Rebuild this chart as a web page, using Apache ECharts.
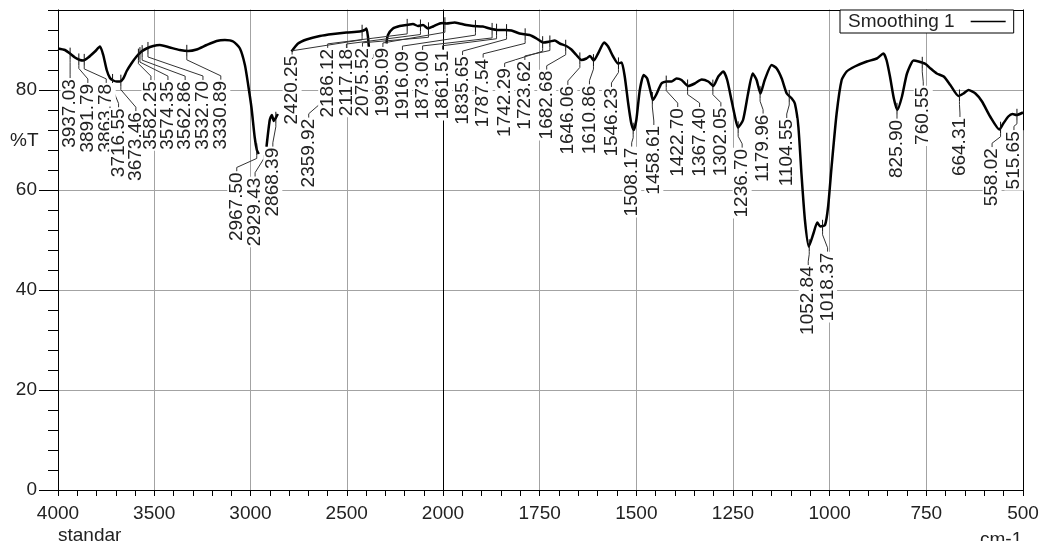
<!DOCTYPE html>
<html>
<head>
<meta charset="utf-8">
<script src="https://cdn.jsdelivr.net/npm/echarts@6/dist/echarts.min.js"></script>
<style>
  html, body { margin: 0; padding: 0; background: #fff; }
  #chart { width: 1040px; height: 541px; }
</style>
</head>
<body>
<div id="chart"></div>
<script>
// Infrared spectrum (%T vs wavenumber). The wavenumber axis is split at 2000 cm-1:
// 4000-2000 on a compressed scale, 2000-500 on an expanded one.

// Spectrum trace, high to low wavenumber; null marks the parts the trace omits.
const wavenumber = [
  4000, 3964, 3938, 3912, 3886, 3869, 3843, 3808, 3782, 3765, 3747, 3730, 3713, 3695, 3678, 3661,
  3643, 3617, 3592, 3566, 3540, 3505, 3471, 3419, 3367, 3324, 3280, 3228, 3176, 3133, 3090, 3055,
  3029, 3012, 2995, 2978, 2967, 2957, 2940, 2917, 2900, 2889, 2879, 2869, 2858, 2820, 2787, 2753,
  2709, 2640, 2571, 2502, 2433, 2407, 2398, 2390, 2384, 2340, 2294, 2286, 2260, 2225, 2190, 2156,
  2130, 2104, 2078, 2052, 2017, 2000,
  1991, 1970, 1957, 1940, 1922, 1897, 1879, 1858, 1840, 1823, 1802, 1776, 1758, 1741, 1724, 1711,
  1698, 1681, 1668, 1655, 1642, 1629, 1620, 1610, 1599, 1583, 1573, 1560, 1547, 1538, 1530, 1521,
  1513, 1507, 1500, 1491, 1481, 1472, 1461, 1457, 1449, 1435, 1422, 1409, 1396, 1383, 1366, 1349,
  1331, 1314, 1301, 1288, 1275, 1265, 1254, 1245, 1237, 1224, 1211, 1199, 1189, 1179, 1168, 1150,
  1137, 1124, 1111, 1098, 1090, 1081, 1073, 1064, 1054, 1042, 1032, 1024, 1012, 1004, 995, 982,
  969, 956, 935, 904, 878, 861, 853, 844, 834, 825, 813, 800, 783, 770, 752, 739,
  723, 705, 688, 667, 654, 641, 623, 606, 585, 561, 551, 538, 527, 517, 500
];
const transmittance = [
  88.3, 88.0, 87.3, 86.5, 86.0, 85.9, 86.5, 87.7, 88.7, 87.0, 84.0, 82.4, 81.9, 81.7, 81.7, 82.3,
  83.8, 85.4, 86.7, 87.7, 88.3, 88.8, 89.0, 88.5, 88.0, 87.8, 88.1, 89.0, 89.8, 90.0, 89.7, 88.3,
  85.0, 81.0, 76.5, 70.5, 68.0, 67.2, null, 68.6, 74.0, 75.0, 73.8, 74.4, 75.2, null, 87.7, 89.3,
  90.1, 90.8, 91.2, 91.5, 91.7, 92.0, 92.3, 90.7, 88.0, null, 89.3, 91.0, 92.3, 92.8, 93.0, 93.2,
  92.8, 93.0, 92.3, 92.7, 93.3, 93.4,
  93.3, 93.5, 93.3, 93.0, 92.8, 92.7, 92.3, 92.0, 92.0, 91.9, 91.3, 91.0, 90.3, 89.5, 89.7, 89.9,
  89.3, 88.8, 88.1, 87.0, 86.0, 86.3, 86.8, 85.9, 87.3, 89.5, 88.7, 86.7, 85.3, 85.5, 82.7, 77.3,
  73.3, 72.0, 74.0, 80.0, 83.0, 82.3, 79.0, 78.0, 79.0, 81.3, 81.7, 81.7, 82.3, 82.0, 80.8, 81.3,
  82.1, 81.7, 80.8, 82.7, 83.7, 82.0, 78.0, 74.7, 72.5, 74.0, 79.3, 83.3, 82.0, 79.3, 82.0, 85.0,
  84.3, 82.3, 79.3, 78.3, 77.3, 72.7, 63.3, 54.0, 48.7, 51.3, 53.5, 52.7, 53.0, 56.7, 64.7, 75.3,
  82.0, 83.7, 84.7, 85.7, 86.3, 87.3, 86.0, 82.7, 78.3, 76.0, 78.7, 83.3, 85.9, 85.7, 85.2, 84.3,
  83.3, 82.7, 81.0, 78.8, 79.3, 80.0, 79.3, 77.7, 74.7, 72.1, 73.3, 74.7, 75.2, 75.0, 75.5
];

// Picked peaks (cm-1)
const peakWavenumbers = [
  3937.03, 3891.79, 3863.78, 3716.55, 3673.46, 3582.25, 3574.35, 3562.86, 3532.70, 3330.89,
  2967.50, 2929.43, 2868.39, 2420.25, 2359.92, 2186.12, 2117.18, 2075.52, 1995.09, 1916.09,
  1873.00, 1861.51, 1835.65, 1787.54, 1742.29, 1723.62, 1682.68, 1646.06, 1610.86, 1546.23,
  1508.17, 1458.61, 1422.70, 1367.40, 1302.05, 1236.70, 1179.96, 1104.55, 1052.84, 1018.37,
  825.90, 760.55, 664.31, 558.02, 515.65
];
// Label placement: [dx, dy] in px from the peak on the trace to the top end of its label
const peakLabelOffsets = [
  [0, 24.5], [9, 23.5], [22, 23], [6, 27.5], [15, 30.5], [12.5, 25.5], [28, 27], [43, 29], [55, 32], [34, 29],
  [-20, 22], [-9, 27.5], [-3, 29], [-70, 24], [-65, 69.5], [-79.5, 23], [-74, 22.5], [-66, 18.5], [-62, 23.7], [-73, 24],
  [-69.5, 21], [-54, 20], [-44, 25], [-42, 23.5], [-38, 25], [-25, 18.5], [-19, 24], [-12, 26.5], [-4, 24.5], [-7, 23.5],
  [-1.5, 18], [1.5, 27], [11.5, 25.5], [12, 21.5], [8, 21], [4, 20.5], [3, 21.5], [-2.5, 22], [-1, 20], [5, 26],
  [0, 10], [1, 23], [0.5, 21.5], [-8.5, 19.5], [-3, 15.5]
];

const SPLIT = 2000;
const FONT = '"Liberation Sans", Arial, Helvetica, sans-serif';
const TEXT = '#222';
const GRID = '#a3a3a3';

function segment(high) {
  const out = [];
  for (let i = 0; i < wavenumber.length; i++) {
    const w = wavenumber[i];
    if (high ? w >= SPLIT : w <= SPLIT) {
      out.push([w, transmittance[i] == null ? '-' : transmittance[i]]);
    }
  }
  return out;
}

// Trace value at a wavenumber (linear between the nearest recorded points)
function traceAt(w) {
  let j = 0;
  while (j < wavenumber.length - 2 && wavenumber[j + 1] > w) j++;
  const gap = transmittance[j] == null || transmittance[j + 1] == null;
  let a = j, b = j + 1;
  while (a > 0 && transmittance[a] == null) a--;
  while (b < wavenumber.length - 1 && transmittance[b] == null) b++;
  const t = (w - wavenumber[a]) / (wavenumber[b] - wavenumber[a]);
  return { t: transmittance[a] + t * (transmittance[b] - transmittance[a]), gap };
}

function peakData(high) {
  const out = [];
  peakWavenumbers.forEach((w, i) => {
    if (high ? w >= SPLIT : w < SPLIT) {
      const r = traceAt(w);
      out.push([w, r.t, i, r.gap ? 1 : 0]);
    }
  });
  return out;
}

function renderPeak(params, api) {
  const i = api.value(2);
  const p = api.coord([api.value(0), api.value(1)]);
  const off = peakLabelOffsets[i];
  const lx = p[0] + off[0];
  const top = p[1] + off[1];
  const children = [];
  if (api.value(3) !== 1) {
    children.push({
      type: 'line', z2: 10,
      shape: { x1: p[0], y1: p[1] - 6, x2: p[0], y2: p[1] + 6 },
      style: { stroke: '#111', lineWidth: 1 }
    });
  }
  const y0 = p[1] + 6;
  let pts;
  if (top - 4 > y0 + 3) {
    pts = [[p[0], y0], [p[0], y0 + 3], [lx, top - 4], [lx, top]];
  } else {
    pts = [[p[0], y0], [lx, top]];
  }
  children.push({
    type: 'polyline', z2: 10,
    shape: { points: pts },
    style: { stroke: '#333', lineWidth: 1, fill: null }
  });
  children.push({
    type: 'text', z2: 100,
    x: lx, y: top, rotation: Math.PI / 2,
    style: {
      text: peakWavenumbers[i].toFixed(2),
      font: '19px ' + FONT,
      fill: TEXT,
      align: 'right',
      verticalAlign: 'middle',
      backgroundColor: '#fff',
      padding: [0, 1, 0, 1]
    }
  });
  return { type: 'group', children };
}

const plainNumber = v => String(v);
const axisLabelStyle = { color: TEXT, fontSize: 19, fontFamily: FONT, formatter: plainNumber };
const blackLine = { color: '#000', width: 1 };

const chart = echarts.init(document.getElementById('chart'));
chart.setOption({
  animation: false,
  backgroundColor: '#fff',
  grid: [
    { left: 58, top: -10, width: 385, bottom: 51, outerBoundsMode: 'none', containLabel: false },
    { left: 443, top: -10, width: 580, bottom: 51, outerBoundsMode: 'none', containLabel: false }
  ],
  xAxis: [
    {
      gridIndex: 0, type: 'value', min: 2000, max: 4000, interval: 500, inverse: true,
      axisLine: { lineStyle: blackLine },
      axisTick: { inside: false, length: 6, lineStyle: blackLine },
      minorTick: { show: true, splitNumber: 5, length: 6, lineStyle: blackLine },
      axisLabel: Object.assign({ margin: 14 }, axisLabelStyle),
      splitLine: { show: true, lineStyle: { color: ['#000', GRID, GRID, GRID, GRID], width: 1 } }
    },
    {
      gridIndex: 1, type: 'value', min: 500, max: 2000, interval: 250, inverse: true,
      axisLine: { lineStyle: blackLine },
      axisTick: { inside: false, length: 6, lineStyle: blackLine },
      minorTick: { show: true, splitNumber: 5, length: 6, lineStyle: blackLine },
      axisLabel: Object.assign({ margin: 14, showMaxLabel: false }, axisLabelStyle),
      splitLine: { show: true, lineStyle: { color: GRID, width: 1 } }
    }
  ],
  yAxis: [
    {
      gridIndex: 0, type: 'value', min: 0, max: 100, interval: 20,
      axisLine: { show: true, lineStyle: blackLine },
      axisTick: { show: true, inside: false, length: 19, lineStyle: blackLine },
      minorTick: { show: true, splitNumber: 5, length: 10, lineStyle: blackLine },
      axisLabel: Object.assign({ margin: 21 }, axisLabelStyle),
      splitLine: { show: true, lineStyle: { color: GRID, width: 1 } }
    },
    {
      gridIndex: 1, type: 'value', min: 0, max: 100, interval: 20,
      axisLine: { show: true, lineStyle: blackLine },
      axisTick: { show: false }, axisLabel: { show: false },
      splitLine: { show: true, lineStyle: { color: GRID, width: 1 } }
    },
    {
      gridIndex: 1, type: 'value', min: 0, max: 100, interval: 20, position: 'right',
      axisLine: { show: true, onZero: false, lineStyle: blackLine },
      axisTick: { show: false }, axisLabel: { show: false }, splitLine: { show: false }
    }
  ],
  legend: {
    data: [{ name: 'Smoothing 1', icon: 'rect' }],
    left: 840, top: 10, z: 20,
    align: 'right',
    padding: [2, 8, 2, 8],
    itemWidth: 35, itemHeight: 1.5,
    borderColor: '#000', borderWidth: 1, borderRadius: 0,
    backgroundColor: '#fff',
    itemStyle: { color: '#000', borderWidth: 0 },
    textStyle: { color: TEXT, fontSize: 19, fontFamily: FONT, padding: [0, 11, 0, 0] }
  },
  graphic: [
    { type: 'rect', z: 10, silent: true, shape: { x: 0, y: 0, width: 1040, height: 9.5 }, style: { fill: '#fff' } },
    { type: 'line', z: 11, silent: true, shape: { x1: 58, y1: 10.5, x2: 1023.5, y2: 10.5 }, style: { stroke: '#000', lineWidth: 1 } },
    { type: 'text', z: 11, left: 10, top: 131, style: { text: '%T', font: '19px ' + FONT, fill: TEXT } },
    { type: 'text', z: 11, left: 58, top: 526, style: { text: 'standar', font: '19px ' + FONT, fill: TEXT } },
    { type: 'text', z: 11, left: 980, top: 530, style: { text: 'cm-1', font: '19px ' + FONT, fill: TEXT } }
  ],
  series: [
    {
      name: 'Smoothing 1', type: 'line', xAxisIndex: 0, yAxisIndex: 0, z: 2,
      data: segment(true), symbol: 'none', smooth: 0.2, connectNulls: false,
      lineStyle: { color: '#000', width: 2.5 }, itemStyle: { color: '#000' }
    },
    {
      name: 'Smoothing 1', type: 'line', xAxisIndex: 1, yAxisIndex: 1, z: 2,
      data: segment(false), symbol: 'none', smooth: 0.2, connectNulls: false,
      lineStyle: { color: '#000', width: 2.5 }, itemStyle: { color: '#000' }
    },
    {
      type: 'custom', xAxisIndex: 0, yAxisIndex: 0, z: 3, silent: true, clip: false,
      encode: { x: 0, y: 1 }, data: peakData(true), renderItem: renderPeak
    },
    {
      type: 'custom', xAxisIndex: 1, yAxisIndex: 1, z: 3, silent: true, clip: false,
      encode: { x: 0, y: 1 }, data: peakData(false), renderItem: renderPeak
    }
  ]
});
</script>
</body>
</html>
